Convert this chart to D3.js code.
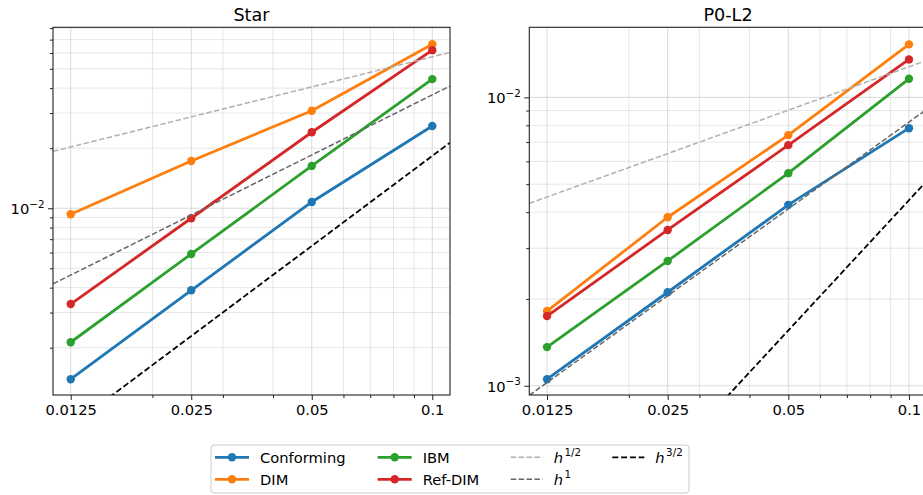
<!DOCTYPE html>
<html>
<head>
<meta charset="utf-8">
<script src="https://cdn.jsdelivr.net/npm/d3@7"></script>
<style>
  html, body { margin: 0; padding: 0; background: #fff; }
  svg { display: block; font-family: "DejaVu Sans", sans-serif; }
</style>
</head>
<body>
<svg id="chart" width="923" height="495"></svg>
<script>
// Mesh sizes and tick labels
const meshSizes = [0.0125, 0.025, 0.05, 0.1];
const xTickLabels = ["0.0125", "0.025", "0.05", "0.1"];
const xMinorTicks = [0.02, 0.03, 0.04, 0.06, 0.07, 0.08, 0.09];

// Method names and colours
const methods = ["Conforming", "DIM", "IBM", "Ref-DIM"];
const methodColors = ["#1f77b4", "#ff7f0e", "#2ca02c", "#d62728"];

// Star: error per mesh size
const starConforming = [0.00139, 0.00388, 0.01075, 0.02585];
const starDIM        = [0.00933, 0.01726, 0.03083, 0.0664];
const starIBM        = [0.00213, 0.00590, 0.01630, 0.0444];
const starRefDIM     = [0.00331, 0.00891, 0.02404, 0.0620];

// P0-L2: error per mesh size
const p0Conforming = [0.001054, 0.00211, 0.00424, 0.00782];
const p0DIM        = [0.001816, 0.00384, 0.00740, 0.01527];
const p0IBM        = [0.001362, 0.00271, 0.00546, 0.01160];
const p0RefDIM     = [0.001745, 0.00347, 0.00683, 0.01354];

// Reference slopes h^p, given by their value at h = 0.1
const refOrders = [0.5, 1, 1.5];
const refLabels = ["1/2", "1", "3/2"];
const starRefAt01 = [0.0574, 0.0370, 0.0183];
const p0RefAt01   = [0.01277, 0.00821, 0.0044];

const svg = d3.select("#chart");
const FONT = 14.7;
const plotTop = 27.3, plotBottom = 395;
const xPad = Math.pow(2, 0.147);
const xDomain = [meshSizes[0] / xPad, meshSizes[meshSizes.length - 1] * xPad];

const refStyles = [
  { color: "#b0b0b0", width: 1.5, dash: "5.5,2.4" },
  { color: "#666666", width: 1.5, dash: "5.5,2.4" },
  { color: "#000000", width: 1.8, dash: "6,2.8" }
];

function drawPanel(cfg, idx) {
  const g = svg.append("g");
  const x = d3.scaleLog().domain(xDomain).range([cfg.left, cfg.right]);
  const y = d3.scaleLog().domain(cfg.yDomain).range([plotBottom, plotTop]);

  const clipId = "clip" + idx;
  svg.append("clipPath").attr("id", clipId)
    .append("rect")
    .attr("x", cfg.left).attr("y", plotTop)
    .attr("width", cfg.right - cfg.left).attr("height", plotBottom - plotTop);

  const yAll = y.ticks();
  const isMajor = v => Math.abs(Math.log10(v) - Math.round(Math.log10(v))) < 1e-9;
  const yMajor = yAll.filter(isMajor);
  const yMinor = yAll.filter(v => !isMajor(v));

  // grid
  const grid = g.append("g").attr("clip-path", `url(#${clipId})`);
  grid.selectAll("line.vmin").data(xMinorTicks).join("line")
    .attr("x1", d => x(d)).attr("x2", d => x(d))
    .attr("y1", plotTop).attr("y2", plotBottom)
    .attr("stroke", "#b0b0b0").attr("stroke-opacity", 0.3).attr("stroke-width", 1);
  grid.selectAll("line.hmin").data(yMinor).join("line")
    .attr("x1", cfg.left).attr("x2", cfg.right)
    .attr("y1", d => y(d)).attr("y2", d => y(d))
    .attr("stroke", "#b0b0b0").attr("stroke-opacity", 0.3).attr("stroke-width", 1);
  grid.selectAll("line.vmaj").data(meshSizes).join("line")
    .attr("x1", d => x(d)).attr("x2", d => x(d))
    .attr("y1", plotTop).attr("y2", plotBottom)
    .attr("stroke", "#b0b0b0").attr("stroke-opacity", 0.45).attr("stroke-width", 1);
  grid.selectAll("line.hmaj").data(yMajor).join("line")
    .attr("x1", cfg.left).attr("x2", cfg.right)
    .attr("y1", d => y(d)).attr("y2", d => y(d))
    .attr("stroke", "#b0b0b0").attr("stroke-opacity", 0.45).attr("stroke-width", 1);

  // data series
  const plot = g.append("g").attr("clip-path", `url(#${clipId})`);
  const line = d3.line().x(d => x(d[0])).y(d => y(d[1]));
  cfg.series.forEach((vals, i) => {
    const pts = meshSizes.map((h, k) => [h, vals[k]]);
    plot.append("path").datum(pts)
      .attr("d", line).attr("fill", "none")
      .attr("stroke", methodColors[i]).attr("stroke-width", 2.8)
      .attr("stroke-linejoin", "round");
    plot.selectAll(null).data(pts).join("circle")
      .attr("cx", d => x(d[0])).attr("cy", d => y(d[1])).attr("r", 4.2)
      .attr("fill", methodColors[i]);
  });

  // reference slopes
  cfg.refAt01.forEach((c, i) => {
    const p = refOrders[i];
    const pts = xDomain.map(h => [h, c * Math.pow(h / 0.1, p)]);
    plot.append("path").datum(pts)
      .attr("d", line).attr("fill", "none")
      .attr("stroke", refStyles[i].color).attr("stroke-width", refStyles[i].width)
      .attr("stroke-dasharray", refStyles[i].dash);
  });

  // axes
  const xAxis = g.append("g").attr("transform", `translate(0,${plotBottom})`)
    .call(d3.axisBottom(x).tickValues(meshSizes)
      .tickFormat((d, i) => xTickLabels[i]).tickSize(5).tickPadding(4.5));
  g.append("g").attr("transform", `translate(0,${plotBottom})`)
    .call(d3.axisBottom(x).tickValues(xMinorTicks).tickFormat("").tickSize(3));
  const yAxis = g.append("g").attr("transform", `translate(${cfg.left},0)`)
    .call(d3.axisLeft(y).tickValues(yMajor).tickFormat("").tickSize(5));
  g.append("g").attr("transform", `translate(${cfg.left},0)`)
    .call(d3.axisLeft(y).tickValues(yMinor).tickFormat("").tickSize(3));

  g.selectAll(".domain").remove();
  g.selectAll(".tick line").attr("stroke", "#222").attr("stroke-width", 1);
  xAxis.selectAll(".tick text")
    .attr("font-size", FONT).attr("font-family", "DejaVu Sans").attr("fill", "#000");

  // y labels as powers of ten
  yAxis.selectAll(".tick").each(function (d) {
    const t = d3.select(this).append("text")
      .attr("x", -8.5).attr("y", 5.5)
      .attr("text-anchor", "end").attr("fill", "#000")
      .attr("font-family", "DejaVu Sans").attr("font-size", FONT);
    t.append("tspan").text("10");
    t.append("tspan").attr("dy", -6.5).attr("font-size", 10.3)
      .text("\u2212" + Math.abs(Math.round(Math.log10(d))));
  });

  // frame
  g.append("rect")
    .attr("x", cfg.left).attr("y", plotTop)
    .attr("width", cfg.right - cfg.left).attr("height", plotBottom - plotTop)
    .attr("fill", "none").attr("stroke", "#222").attr("stroke-width", 1.1);

  // title
  g.append("text")
    .attr("x", (cfg.left + cfg.right) / 2).attr("y", 20.7)
    .attr("text-anchor", "middle").attr("font-size", 17.6)
    .attr("font-family", "DejaVu Sans").attr("fill", "#000")
    .text(cfg.title);
}

drawPanel({
  title: "Star", left: 53, right: 450,
  yDomain: [Math.pow(10, -2.936), Math.pow(10, -1.093)],
  series: [starConforming, starDIM, starIBM, starRefDIM],
  refAt01: starRefAt01
}, 0);

drawPanel({
  title: "P0-L2", left: 529.3, right: 926.7,
  yDomain: [Math.pow(10, -3.032), Math.pow(10, -1.757)],
  series: [p0Conforming, p0DIM, p0IBM, p0RefDIM],
  refAt01: p0RefAt01
}, 1);

// legend
const legend = svg.append("g");
legend.append("rect")
  .attr("x", 211).attr("y", 445).attr("width", 478).attr("height", 48)
  .attr("rx", 3).attr("fill", "#fff").attr("fill-opacity", 0.8)
  .attr("stroke", "#cccccc").attr("stroke-width", 1);

const colX = [215, 377.7, 510.7, 612.3];
const rowY = [457.3, 479.3];
const handleW = 34;

const legendItems = [
  { col: 0, row: 0, kind: "m", i: 0 },
  { col: 0, row: 1, kind: "m", i: 1 },
  { col: 1, row: 0, kind: "m", i: 2 },
  { col: 1, row: 1, kind: "m", i: 3 },
  { col: 2, row: 0, kind: "r", i: 0 },
  { col: 2, row: 1, kind: "r", i: 1 },
  { col: 3, row: 0, kind: "r", i: 2 }
];

legendItems.forEach(it => {
  const x0 = colX[it.col], yy = rowY[it.row];
  if (it.kind === "m") {
    legend.append("line")
      .attr("x1", x0).attr("x2", x0 + handleW).attr("y1", yy).attr("y2", yy)
      .attr("stroke", methodColors[it.i]).attr("stroke-width", 2.8);
    legend.append("circle").attr("cx", x0 + handleW / 2).attr("cy", yy).attr("r", 4.2)
      .attr("fill", methodColors[it.i]);
    legend.append("text").attr("x", x0 + 45).attr("y", yy + 5.2)
      .attr("font-size", FONT).attr("font-family", "DejaVu Sans").attr("fill", "#000")
      .text(methods[it.i]);
  } else {
    const s = refStyles[it.i];
    legend.append("line")
      .attr("x1", x0).attr("x2", x0 + handleW - 2).attr("y1", yy).attr("y2", yy)
      .attr("stroke", s.color).attr("stroke-width", s.width)
      .attr("stroke-dasharray", s.dash);
    const t = legend.append("text").attr("x", x0 + 43).attr("y", yy + 5.2)
      .attr("font-size", FONT).attr("font-family", "DejaVu Sans").attr("fill", "#000");
    t.append("tspan").attr("font-style", "italic").text("h");
    t.append("tspan").attr("dx", 1.5).attr("dy", -6.5).attr("font-size", 10.3)
      .text(refLabels[it.i]);
  }
});
</script>
</body>
</html>
